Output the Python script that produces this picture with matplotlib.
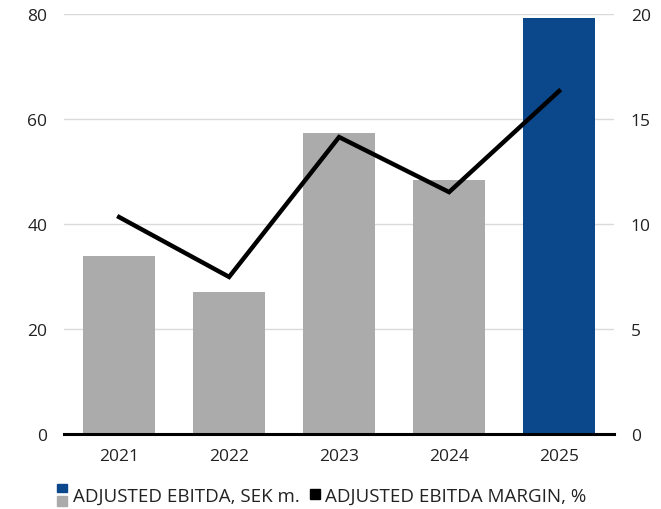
import matplotlib
matplotlib.use("Agg")
import matplotlib.pyplot as plt
from matplotlib.patches import Rectangle

years = ["2021", "2022", "2023", "2024", "2025"]
ebitda = [33.9, 27.0, 57.3, 48.4, 79.2]
margin = [10.33, 7.48, 14.14, 11.52, 16.33]
left_ticks = [0, 20, 40, 60, 80]
right_ticks = [0, 5, 10, 15, 20]

plt.rcParams['font.family'] = ['Open Sans', 'DejaVu Sans']
txt = '#222222'
grey = '#ababab'
blue = '#0b478b'

fig = plt.figure(figsize=(6.61, 5.10), dpi=100)
ax = fig.add_axes([0.097, 0.147, 0.832, 0.8236])
x = list(range(len(years)))
colors = [grey] * 4 + [blue]
ax.bar(x, ebitda, width=0.65, color=colors, zorder=2)
ax.set_ylim(0, 80)
ax.set_xlim(-0.5, 4.5)
ax.set_yticks(left_ticks)
ax.set_xticks(x)
ax.set_xticklabels(years)
ax.grid(axis='y', color='#dadada', linewidth=1, zorder=0)
ax.set_axisbelow(True)
for s in ['top', 'right', 'left']:
    ax.spines[s].set_visible(False)
ax.spines['bottom'].set_color('black')
ax.spines['bottom'].set_linewidth(2.2)
ax.spines['bottom'].set_zorder(5)
ax.tick_params(axis='both', length=0, labelsize=12.5, colors=txt)
ax.tick_params(axis='x', pad=10)
ax.tick_params(axis='y', pad=12)

ax2 = ax.twinx()
ax2.plot(x, margin, color='black', linewidth=3.2, solid_joinstyle='miter', zorder=3)
ax2.set_ylim(0, 20)
ax2.set_yticks(right_ticks)
for s in ['top', 'right', 'left', 'bottom']:
    ax2.spines[s].set_visible(False)
ax2.tick_params(axis='y', length=0, labelsize=12.5, colors=txt, pad=12)

# legend
W, H = 661, 510
def rect(px, py, w, h, c):
    fig.patches.append(Rectangle((px / W, 1 - (py + h) / H), w / W, h / H,
                                 transform=fig.transFigure, color=c))
rect(57, 485, 10, 8, blue)
rect(57, 497, 10, 10, grey)
fig.text(73 / W, 1 - 497 / H, "ADJUSTED EBITDA, SEK m.", fontsize=13.5, color=txt, va='center')
rect(310, 490, 10, 10, 'black')
fig.text(325 / W, 1 - 497 / H, "ADJUSTED EBITDA MARGIN, %", fontsize=13.5, color=txt, va='center')

fig.savefig("out.png", dpi=100)
